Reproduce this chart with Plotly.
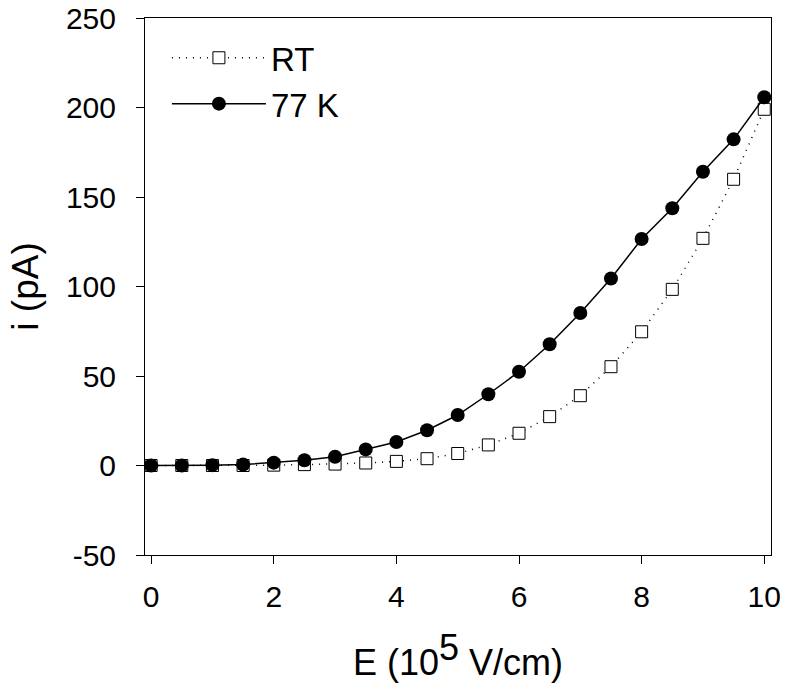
import plotly.graph_objects as go

E = [0, 0.5, 1, 1.5, 2, 2.5, 3, 3.5, 4, 4.5, 5, 5.5, 6, 6.5, 7, 7.5, 8, 8.5, 9, 9.5, 10]
i_RT = [0, 0, 0, 0, 0.2, 0.5, 0.8, 1.4, 2.3, 3.8, 6.7, 11.5, 18, 27.3, 39, 55.2, 74.7, 98.4, 126.9, 159.9, 199]
i_77K = [0, 0, 0.2, 0.5, 1.6, 2.9, 4.9, 9, 13.1, 19.7, 28.2, 39.8, 52.4, 67.7, 85.2, 104.5, 126.5, 143.7, 164.1, 182.2, 205.7]
x_ticks = [0, 2, 4, 6, 8, 10]
x_ticktext = ["0", "2", "4", "6", "8", "10"]
y_ticks = [-50, 0, 50, 100, 150, 200, 250]
y_ticktext = ["-50", "0", "50", "100", "150", "200", "250"]

FONT = "Liberation Sans, Arial, sans-serif"

fig = go.Figure()
fig.add_trace(go.Scatter(
    x=E, y=i_RT, name="RT", mode="lines+markers",
    line=dict(color="black", width=1.5, dash="1px,6px"),
    marker=dict(symbol="square", size=12, color="white", line=dict(color="black", width=1)),
))
fig.add_trace(go.Scatter(
    x=E, y=i_77K, name="77 K", mode="lines+markers",
    line=dict(color="black", width=1.5),
    marker=dict(symbol="circle", size=14, color="black", line=dict(color="black", width=0)),
))

axis_common = dict(
    showline=True, linecolor="black", linewidth=1, mirror=True,
    ticks="outside", ticklen=8, tickwidth=1, tickcolor="black",
    showgrid=False, zeroline=False, automargin=False,
    ticklabeloverflow="allow",
    tickfont=dict(family=FONT, size=30, color="black"),
)

fig.update_layout(
    width=785, height=691,
    margin=dict(l=145, r=14, t=18, b=136, autoexpand=False),
    paper_bgcolor="white", plot_bgcolor="white",
    font=dict(family=FONT, color="black"),
    showlegend=True,
    legend=dict(
        x=0.035, y=0.978, xanchor="left", yanchor="top",
        font=dict(family=FONT, size=33, color="black"),
        bgcolor="rgba(0,0,0,0)", borderwidth=0,
        itemwidth=94, tracegroupgap=0,
    ),
    xaxis=dict(
        range=[-0.1, 10.11], tickvals=x_ticks, ticktext=x_ticktext,
        ticklabelstandoff=7,
        title=dict(text="E (10<sup><span style='font-size:36px'>5</span></sup> V/cm)",
                   font=dict(family=FONT, size=36, color="black"), standoff=37),
        **axis_common,
    ),
    yaxis=dict(
        range=[-50, 250], tickvals=y_ticks, ticktext=y_ticktext,
        ticklabelstandoff=14,
        title=dict(text="i (pA)", font=dict(family=FONT, size=37, color="black"), standoff=15),
        **axis_common,
    ),
)

fig.write_html("out.html", config={"displayModeBar": False},
               post_script="document.body.style.margin='0';")
